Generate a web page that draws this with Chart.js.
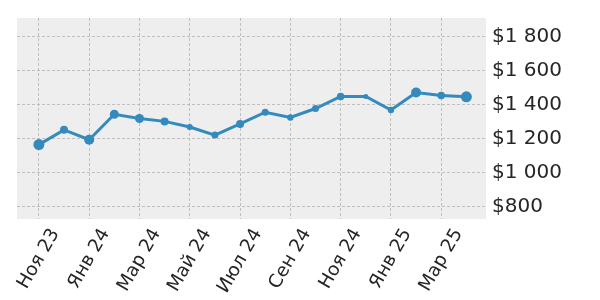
<!DOCTYPE html>
<html>
<head>
<meta charset="utf-8">
<script src="https://cdn.jsdelivr.net/npm/chart.js@4"></script>
<style>
  html, body { margin: 0; padding: 0; background: #fff; }
  #wrap { width: 600px; height: 300px; }
</style>
</head>
<body>
<div id="wrap"><canvas id="priceChart"></canvas></div>
<script>
// Monthly data
const months = [`Ноя 23`, `Дек 23`, `Янв 24`, `Фев 24`, `Мар 24`, `Апр 24`, `Май 24`, `Июн 24`, `Июл 24`,
                `Авг 24`, `Сен 24`, `Окт 24`, `Ноя 24`, `Дек 24`, `Янв 25`, `Фев 25`, `Мар 25`, `Апр 25`];
const prices = [1165, 1252, 1194, 1344, 1319, 1302, 1269, 1221, 1287,
                1356, 1325, 1378, 1449, 1449, 1369, 1472, 1455, 1447];
const markerSizes = [5.5, 4, 5, 4.5, 4.5, 4, 3, 3.5, 4, 3.5, 3.2, 3.5, 3.8, 2.5, 3.2, 5, 3.8, 5.5];

// Tick labels
const xTickLabels = [`Ноя 23`, `Янв 24`, `Мар 24`, `Май 24`, `Июл 24`, `Сен 24`, `Ноя 24`, `Янв 25`, `Мар 25`];
const yTicks = [800, 1000, 1200, 1400, 1600, 1800];

const blue = `#348ABD`;
const textColor = `#262626`;
const fontFamily = `"DejaVu Sans", sans-serif`;

const xTickValues = xTickLabels.map(label => months.indexOf(label));

const formatDollar = v => `$` + String(v).replace(/\B(?=(\d{3})+(?!\d))/g, ` `);

// Gray plot background
const plotBackground = {
  id: `plotBackground`,
  beforeDraw(chart) {
    const {ctx, chartArea: a} = chart;
    ctx.save();
    ctx.fillStyle = `#eeeeee`;
    ctx.fillRect(a.left, a.top, a.right - a.left, a.bottom - a.top);
    ctx.restore();
  }
};

// Rotated x labels, centred under their tick
const xLabels = {
  id: `xLabels`,
  afterDraw(chart) {
    const {ctx} = chart;
    const x = chart.scales.x;
    const angle = Math.PI / 3;
    ctx.save();
    ctx.font = `18.5px ${fontFamily}`;
    ctx.fillStyle = textColor;
    ctx.textAlign = `center`;
    ctx.textBaseline = `middle`;
    xTickLabels.forEach((label, i) => {
      const px = x.getPixelForValue(xTickValues[i]);
      const w = ctx.measureText(label).width;
      const boxH = w * Math.sin(angle) + 18 * Math.cos(angle);
      ctx.save();
      ctx.translate(px, x.top + 7 + boxH / 2);
      ctx.rotate(-angle);
      ctx.fillText(label, 0, 0);
      ctx.restore();
    });
    ctx.restore();
  }
};

const canvas = document.getElementById(`priceChart`);

const priceChart = new Chart(canvas, {
  type: `line`,
  data: {
    datasets: [{
      label: `Цена`,
      data: prices.map((p, i) => ({x: i, y: p})),
      borderColor: blue,
      backgroundColor: blue,
      borderWidth: 3,
      pointRadius: markerSizes,
      pointBorderWidth: 0,
      pointBackgroundColor: blue,
      tension: 0
    }]
  },
  options: {
    responsive: true,
    maintainAspectRatio: false,
    animation: false,
    layout: { padding: { left: 17, top: 15, right: 0, bottom: 0 } },
    plugins: {
      legend: { display: false },
      tooltip: { enabled: false }
    },
    scales: {
      x: {
        type: `linear`,
        min: -0.87,
        max: 17.78,
        afterBuildTicks: scale => { scale.ticks = xTickValues.map(v => ({value: v})); },
        afterFit: scale => { scale.height = 81; },
        ticks: { display: false },
        grid: { color: `#b2b2b2`, lineWidth: 0.8, drawTicks: false },
        border: { display: false, dash: [3, 2] }
      },
      y: {
        position: `right`,
        min: 726,
        max: 1912,
        afterBuildTicks: scale => { scale.ticks = yTicks.map(v => ({value: v})); },
        afterFit: scale => { scale.width = 114; },
        ticks: {
          padding: 6,
          color: textColor,
          font: { size: 20, family: fontFamily },
          callback: v => formatDollar(v)
        },
        grid: { color: `#b2b2b2`, lineWidth: 0.8, drawTicks: false },
        border: { display: false, dash: [3, 2] }
      }
    }
  },
  plugins: [plotBackground, xLabels]
});
</script>
</body>
</html>
